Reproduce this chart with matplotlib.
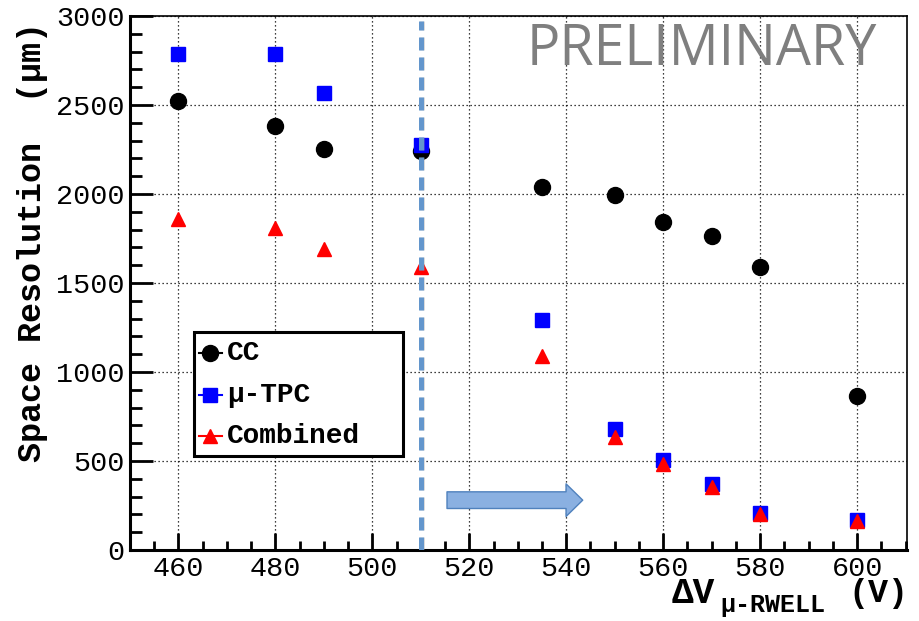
import matplotlib
matplotlib.use("Agg")
import matplotlib.pyplot as plt
from matplotlib.lines import Line2D
from matplotlib.patches import Rectangle, FancyArrowPatch
from matplotlib.ticker import MultipleLocator

# ---- data ----
voltage = [460, 480, 490, 510, 535, 550, 560, 570, 580, 600]
cc = [2525, 2380, 2255, 2240, 2040, 1995, 1845, 1765, 1590, 865]
mu_tpc = [2785, 2785, 2570, 2275, 1290, 680, 505, 368, 207, 170]
combined = [1862, 1808, 1692, 1592, 1088, 636, 482, 352, 202, 161]

series_names = ["CC", "\u03bc-TPC", "Combined"]
threshold_v = 510
arrow_from, arrow_to, arrow_level = 515.4, 543.4, 280

MONO = ["Liberation Mono", "DejaVu Sans Mono"]

fig = plt.figure(figsize=(9.2, 6.21), dpi=100)
ax = fig.add_axes([130 / 920, 71 / 621, 777 / 920, 534 / 621])
ax.set_xlim(450, 610.3)
ax.set_ylim(0, 3000)

# grid
ax.grid(True, which="major", color="black", linestyle=(0, (1, 2.2)), linewidth=0.9)
ax.set_axisbelow(True)

# data points
ax.plot(voltage, cc, linestyle="none", marker="o", markersize=11.5,
        color="black", zorder=3)
ax.plot(voltage, mu_tpc, linestyle="none", marker="s", markersize=10,
        color="blue", zorder=3)
ax.plot(voltage, combined, linestyle="none", marker="^", markersize=10,
        color="red", zorder=4)

# threshold line with a soft shadow
ax.plot([threshold_v + 0.25, threshold_v + 0.25], [0, 2970], color="#9a9a9a",
        linewidth=3.6, dashes=(2.6, 1.4), alpha=0.35, zorder=5)
ax.plot([threshold_v, threshold_v], [0, 2970], color="#6396cc",
        linewidth=3.6, dashes=(2.6, 1.4), zorder=6)

# arrow
arrow = FancyArrowPatch((arrow_from, arrow_level), (arrow_to, arrow_level),
                        arrowstyle="simple,head_length=1.2,head_width=2.35,tail_width=1.2",
                        mutation_scale=10, facecolor="#8ab0e1",
                        edgecolor="#4f81bd", linewidth=1.0, zorder=6,
                        shrinkA=0, shrinkB=0)
ax.add_patch(arrow)

# axes styling
for side in ["left", "bottom"]:
    ax.spines[side].set_linewidth(2.2)
for side in ["top", "right"]:
    ax.spines[side].set_linewidth(1.2)

ax.xaxis.set_major_locator(MultipleLocator(20))
ax.xaxis.set_minor_locator(MultipleLocator(5))
ax.yaxis.set_major_locator(MultipleLocator(500))
ax.yaxis.set_minor_locator(MultipleLocator(100))
ax.tick_params(axis="x", which="major", direction="in", length=12.5, width=2,
               pad=4, top=False)
ax.tick_params(axis="x", which="minor", direction="in", length=6.5, width=2,
               top=False)
ax.tick_params(axis="y", which="major", direction="in", length=16.5, width=2,
               pad=4, right=False)
ax.tick_params(axis="y", which="minor", direction="in", length=8.5, width=2,
               right=False)
for lab in ax.get_xticklabels() + ax.get_yticklabels():
    lab.set_fontfamily(MONO)
    lab.set_fontsize(20.5)

# axis titles
fig.text(33 / 920, 1 - 242 / 621, "Space Resolution  (\u03bcm)", rotation=90,
         ha="center", va="center", fontsize=24, fontweight="bold",
         family=MONO)
fig.text(672 / 920, 1 - 603 / 621, "\u0394V", ha="left", va="baseline",
         fontsize=26, fontweight="bold", family=MONO)
fig.text(720 / 920, 1 - 612 / 621, "\u03bc-RWELL", ha="left", va="baseline",
         fontsize=18, fontweight="bold", family=MONO)
fig.text(908 / 920, 1 - 602 / 621, "(V)", ha="right", va="baseline",
         fontsize=24, fontweight="bold", family=MONO)

# watermark
ax.text(0.9615, 0.9355, "PRELIMINARY", transform=ax.transAxes, ha="right",
        va="center", fontsize=40, color="#7f7f7f", family=["Open Sans"],
        zorder=2)

# legend box
lx0, lx1 = (194 - 130) / 777, (403 - 130) / 777
ly0, ly1 = (550 - 456) / 534, (550 - 332) / 534
ax.add_patch(Rectangle((lx0, ly0), lx1 - lx0, ly1 - ly0, transform=ax.transAxes,
                       facecolor="white", edgecolor="black", linewidth=2.2,
                       zorder=8))
styles = [("o", "black", 11.5), ("s", "blue", 10), ("^", "red", 10)]
rows_px = [353, 395, 436]
for name, (mk, col, ms), ypx in zip(series_names, styles, rows_px):
    yy = (550 - ypx) / 534
    ax.add_line(Line2D([(199 - 130) / 777, (222 - 130) / 777], [yy, yy],
                       transform=ax.transAxes, color=col, linewidth=1.5,
                       zorder=9))
    ax.add_line(Line2D([(210.5 - 130) / 777], [yy], transform=ax.transAxes,
                       marker=mk, markersize=ms, color=col, linestyle="none",
                       zorder=9))
    ax.text((227 - 130) / 777, yy, name, transform=ax.transAxes, ha="left",
            va="center", fontsize=20, fontweight="bold", family=MONO, zorder=9)

fig.savefig("out.png", dpi=100)
